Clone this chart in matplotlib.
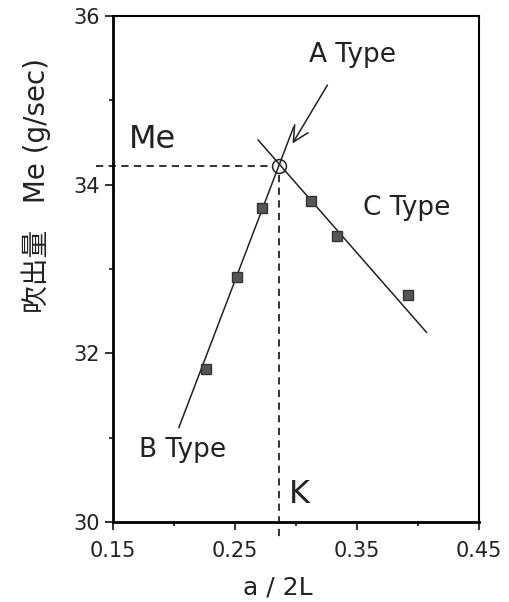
import matplotlib.pyplot as plt
from matplotlib.ticker import MultipleLocator

plt.rcParams['font.family'] = ['DejaVu Sans', 'Noto Sans CJK JP']

# measured points (a/2L, Me)
b_x = [0.226, 0.252, 0.272]
b_y = [31.81, 32.90, 33.72]
c_x = [0.312, 0.334, 0.392]
c_y = [33.81, 33.39, 32.69]

# fitted lines for B and C types
b_line_x = [0.204, 0.298]
b_line_y = [31.12, 34.68]
c_line_x = [0.269, 0.407]
c_line_y = [34.53, 32.25]

# peak point (K, Me)
k_x = 0.286
me_y = 34.22

fig = plt.figure(figsize=(5.1, 6.02), dpi=100)
ax = fig.add_axes([0.2216, 0.1329, 0.7174, 0.8405])

ax.plot(b_line_x, b_line_y, color='#222222', lw=1.1)
ax.plot(c_line_x, c_line_y, color='#222222', lw=1.1)
ax.plot(b_x, b_y, 's', ms=7, mfc='#555555', mec='#333333')
ax.plot(c_x, c_y, 's', ms=7, mfc='#555555', mec='#333333')
ax.plot([k_x], [me_y], 'o', ms=10, mfc='none', mec='#222222', mew=1.1)

# dashed guides to the axes
ax.plot([0.136, k_x - 0.005], [me_y, me_y], ls=(0, (4, 3)), color='#222222',
        lw=1.3, clip_on=False)
ax.plot([k_x, k_x], [me_y - 0.1, 29.81], ls=(0, (4, 3)), color='#222222',
        lw=1.3, clip_on=False)

ax.annotate('', xy=(0.296, 34.46), xytext=(0.327, 35.21),
            arrowprops=dict(arrowstyle='->', color='#222222', lw=1.1,
                            mutation_scale=28))

ax.text(0.163, 34.43, 'Me', fontsize=23, color='#222222')
ax.text(0.311, 35.45, 'A Type', fontsize=19, color='#222222')
ax.text(0.355, 33.64, 'C Type', fontsize=19, color='#222222')
ax.text(0.171, 30.77, 'B Type', fontsize=19, color='#222222')
ax.text(0.294, 30.23, 'K', fontsize=23, color='#222222')

ax.set_xlim(0.15, 0.45)
ax.set_ylim(30, 36)
ax.set_xticks([0.15, 0.25, 0.35, 0.45])
ax.set_xticklabels(['0.15', '0.25', '0.35', '0.45'])
ax.set_yticks([30, 32, 34, 36])
ax.xaxis.set_minor_locator(MultipleLocator(0.05))
ax.yaxis.set_minor_locator(MultipleLocator(1))
ax.tick_params(which='major', direction='out', length=6, width=1.3,
               labelsize=15, colors='#222222')
ax.tick_params(which='minor', direction='out', length=3, width=1.1)
ax.tick_params(axis='x', pad=8)

for side in ['left', 'bottom']:
    ax.spines[side].set_linewidth(2)
for side in ['top', 'right']:
    ax.spines[side].set_linewidth(1.5)

ax.set_xlabel('a / 2L', fontsize=18, color='#222222')
ax.xaxis.set_label_coords(0.45, -0.105)
ax.text(-0.21, 0.665, '吹出量   Me (g/sec)', transform=ax.transAxes, rotation=90,
        ha='center', va='center', fontsize=20, color='#222222',
        family=['DejaVu Sans', 'Noto Sans CJK JP'])

fig.savefig('out.png', dpi=100)
